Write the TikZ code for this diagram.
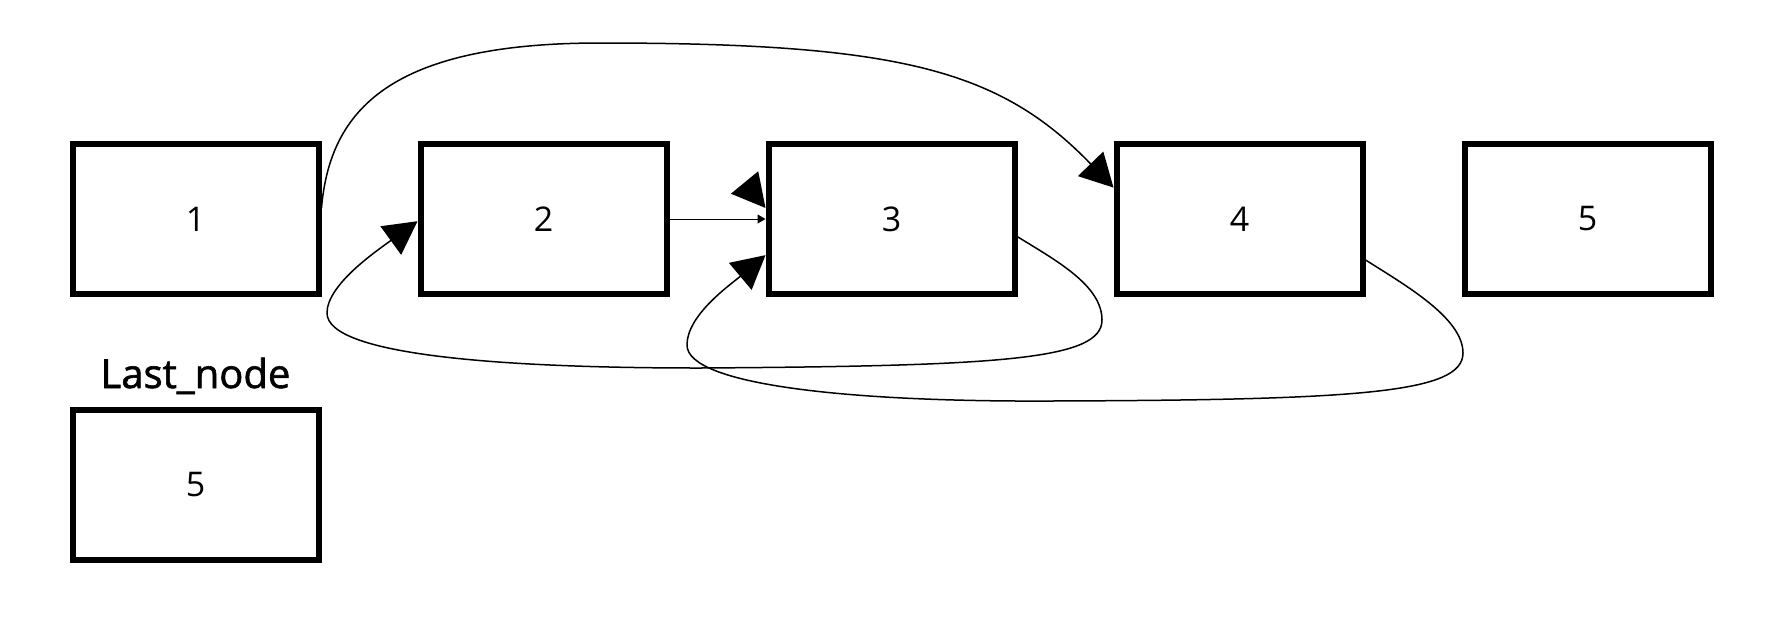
\documentclass[tikz,border=0pt]{standalone}
\usepackage{fontspec}
\setmainfont{Open Sans}
\newfontfamily\namefont{Open Sans}[FakeBold=1.5]
\usepackage{tikz}
\usetikzlibrary{arrows.meta, positioning}

\begin{document}
\begin{tikzpicture}[
      x=0.5pt, y=-0.5pt,
      node distance=48pt,
      box/.style={draw, line width=3pt, minimum width=123pt, minimum height=75pt, inner sep=0pt, font=\fontsize{17}{20}\selectfont},
      flow/.style={-{Triangle[length=16.5pt, width=17.5pt]}, line width=0.75pt},
      link/.style={-{Triangle[length=4pt, width=4.5pt]}, line width=0.5pt}
    ]
      \useasboundingbox (0,0) rectangle (1784,623);
      \node[box] (n1) at (195.5,219) {1};
      \node[box, right=of n1] (n2) {2};
      \node[box, right=of n2] (n3) {3};
      \node[box, right=of n3] (n4) {4};
      \node[box, right=of n4] (n5) {5};
      \node[box, below=55pt of n1] (last) {5};
      \node[above=9.5pt of last.north, anchor=base, font=\namefont\fontsize{20}{24}\selectfont] (lastname) {Last\_node};
      \coordinate (ghost) at (745,183);
      \draw[link] (n2.east) -- (n3.west);
      \draw[flow] (ghost) -- (n3.175);
      \draw[flow] (n1.5) .. controls (330,110) and (390,43) .. (600,43)
        .. controls (900,43) and (1000,70) .. (n4.166);
      \draw[flow] (n3.-8) .. controls (1055,260) and (1102,285) .. (1102,320)
        .. controls (1102,360) and (1000,366) .. (700,368)
        .. controls (500,368) and (327,355) .. (327,313)
        .. controls (327,285) and (375,252) .. (n2.181);
      \draw[flow] (n4.-18) .. controls (1405,285) and (1463,318) .. (1463,353)
        .. controls (1463,393) and (1360,400) .. (1050,401)
        .. controls (850,402) and (687,385) .. (687,345)
        .. controls (687,315) and (730,285) .. (n3.196);
    \end{tikzpicture}
\end{document}
